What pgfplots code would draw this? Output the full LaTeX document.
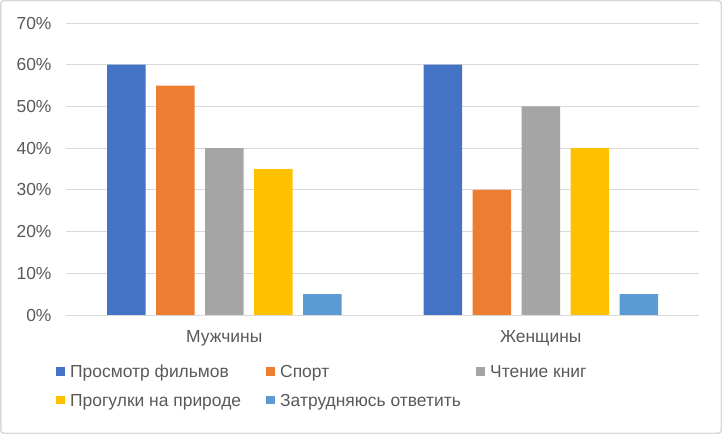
\documentclass[border=0pt]{standalone}
\usepackage{pgfplots}
\pgfplotsset{compat=1.18}
\usepackage{fontspec}
\setmainfont{Liberation Sans}
\definecolor{c1}{HTML}{4472C4}
\definecolor{c2}{HTML}{ED7D31}
\definecolor{c3}{HTML}{A5A5A5}
\definecolor{c4}{HTML}{FFC000}
\definecolor{c5}{HTML}{5B9BD5}
\definecolor{txt}{HTML}{595959}
\definecolor{grd}{HTML}{D9D9D9}
\newcommand{\lt}[1]{\makebox[201bp][l]{\hspace{5bp}\rule[-4bp]{0pt}{16bp}#1}}
\begin{document}
\begin{tikzpicture}
\draw[grd, line width=1.5bp, rounded corners=3bp] (0.75bp,0.75bp) rectangle (721.25bp,433.25bp);
\begin{axis}[
 at={(66bp,119bp)}, anchor=south west,
 scale only axis, width=633bp, height=292bp,
 ybar=10.5bp, bar width=38.5bp,
 xmin=-0.5, xmax=1.5, ymin=0, ymax=70,
 xtick={0,1}, xticklabels={Мужчины,Женщины},
 ytick={0,10,...,70},
 yticklabel={\pgfmathprintnumber{\tick}\%},
 /pgf/number format/assume math mode=true,
 axis x line*=bottom, axis y line*=left,
 x axis line style={grd, line width=1bp, -},
 y axis line style={draw=none},
 ymajorgrids, grid style={grd, line width=1bp},
 major tick length=0,
 tick label style={font=\fontsize{17.5}{20}\selectfont, text=txt},
 yticklabel style={xshift=-11bp},
 xticklabel style={yshift=-12bp},
 legend columns=3,
 legend cell align=left,
 legend style={at={(0,0)}, anchor=north west, xshift=-10bp, yshift=-50bp,
   draw=none, fill=none, inner sep=0pt, row sep=15bp,
   font=\fontsize{17.5}{20}\selectfont, text=txt,
   nodes={inner sep=0pt}},
 legend image code/.code={\fill[#1] (0bp,-3.3bp) rectangle (9bp,5.2bp);},
]
\addplot[fill=c1, draw=none] coordinates {(0,60) (1,60)};
\addplot[fill=c2, draw=none] coordinates {(0,55) (1,30)};
\addplot[fill=c3, draw=none] coordinates {(0,40) (1,50)};
\addplot[fill=c4, draw=none] coordinates {(0,35) (1,40)};
\addplot[fill=c5, draw=none] coordinates {(0,5) (1,5)};
\addlegendentry{\lt{Просмотр фильмов}}
\addlegendentry{\lt{Спорт}}
\addlegendentry{\lt{Чтение книг}}
\addlegendentry{\lt{Прогулки на природе}}
\addlegendentry{\lt{Затрудняюсь ответить}}
\end{axis}
\end{tikzpicture}
\end{document}
